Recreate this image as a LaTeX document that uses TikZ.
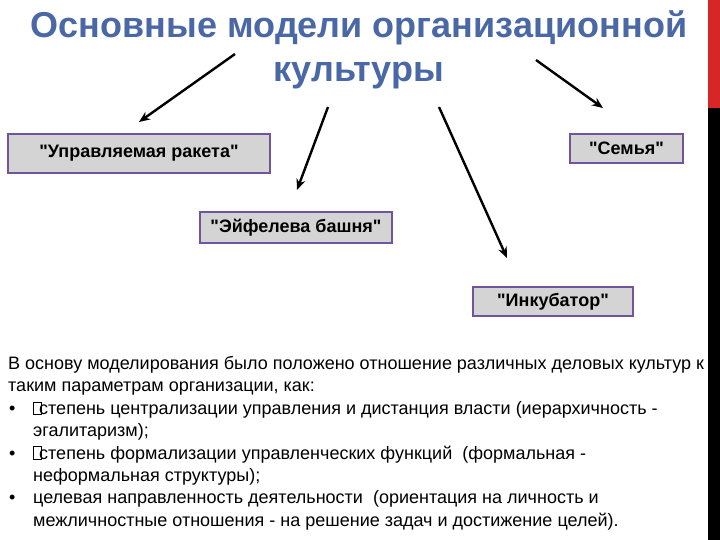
\documentclass[tikz,border=0pt]{standalone}
\usepackage{fontspec}
\setmainfont{Liberation Sans}[Ligatures=TeXOff]
\usetikzlibrary{arrows.meta,positioning}
\definecolor{titleblue}{RGB}{74,104,166}
\definecolor{boxgray}{RGB}{212,212,212}
\definecolor{boxpurple}{RGB}{112,84,158}
\definecolor{barred}{RGB}{214,38,38}
\tikzset{
  modelbox/.style={draw=boxpurple,line width=2.2pt,fill=boxgray,inner sep=0pt,
    font=\bfseries\fontsize{18}{21}\selectfont},
  pointer/.style={line width=2.4pt,-{Stealth[length=11pt,width=9pt]}},
}
\newcommand\tofu{\makebox[0pt][l]{\fboxsep=0pt\fboxrule=0.7pt\fbox{\rule{0pt}{12pt}\hspace{7pt}}}\hspace{6pt}}
\newcommand\bul{\makebox[25pt][l]{\hspace{1pt}•}}

\begin{document}
\begin{tikzpicture}[x=1pt,y=-1pt]
\useasboundingbox (0,0) rectangle (720,540);
\fill[white] (0,0) rectangle (720,540);
% title
\node[anchor=north,align=center,inner sep=0pt,text=titleblue,
  font=\bfseries\fontsize{36}{44}\selectfont] (title) at (359,10.5)
  {Основные модели организационной\\культуры};
% the four models
\node[modelbox,minimum width=262pt,minimum height=39pt] (rocket) at (139,153.5) {"Управляемая ракета"};
\node[modelbox,minimum width=113pt,minimum height=29pt] (family) at (626.5,148.5) {"Семья"};
\node[modelbox,minimum width=192pt,minimum height=31pt] (eiffel) at (296,227.5) {"Эйфелева башня"};
\node[modelbox,minimum width=160pt,minimum height=29pt] (incubator) at (553,301.5) {"Инкубатор"};
% arrows
\coordinate (rocket-from) at (235,54);  \coordinate (rocket-to) at (139,122);
\coordinate (eiffel-from) at (328,107); \coordinate (eiffel-to) at (297,190);
\coordinate (incub-from) at (439,107);  \coordinate (incub-to) at (507,258);
\coordinate (family-from) at (536,60);  \coordinate (family-to) at (603,108);
\draw[pointer] (rocket-from) -- (rocket-to);
\draw[pointer] (eiffel-from) -- (eiffel-to);
\draw[pointer] (incub-from) -- (incub-to);
\draw[pointer] (family-from) -- (family-to);
% text below
\node[anchor=north west,align=left,inner sep=0pt,
  font=\fontsize{18}{22.4}\selectfont] (basis) at (8,356)
  {В основу моделирования было положено отношение различных деловых культур к\\
   таким параметрам организации, как:\\
   \bul\tofu степень централизации управления и дистанция власти (иерархичность -\\
   \hspace*{25pt}эгалитаризм);\\
   \bul\tofu степень формализации управленческих функций\ \ (формальная -\\
   \hspace*{25pt}неформальная структуры);\\
   \bul целевая направленность деятельности\ \ (ориентация на личность и\\
   \hspace*{25pt}межличностные отношения - на решение задач и достижение целей).};
% side bar
\fill[barred] (708,0) rectangle (720,108);
\fill[black] (708,108) rectangle (720,540);
\end{tikzpicture}
\end{document}
